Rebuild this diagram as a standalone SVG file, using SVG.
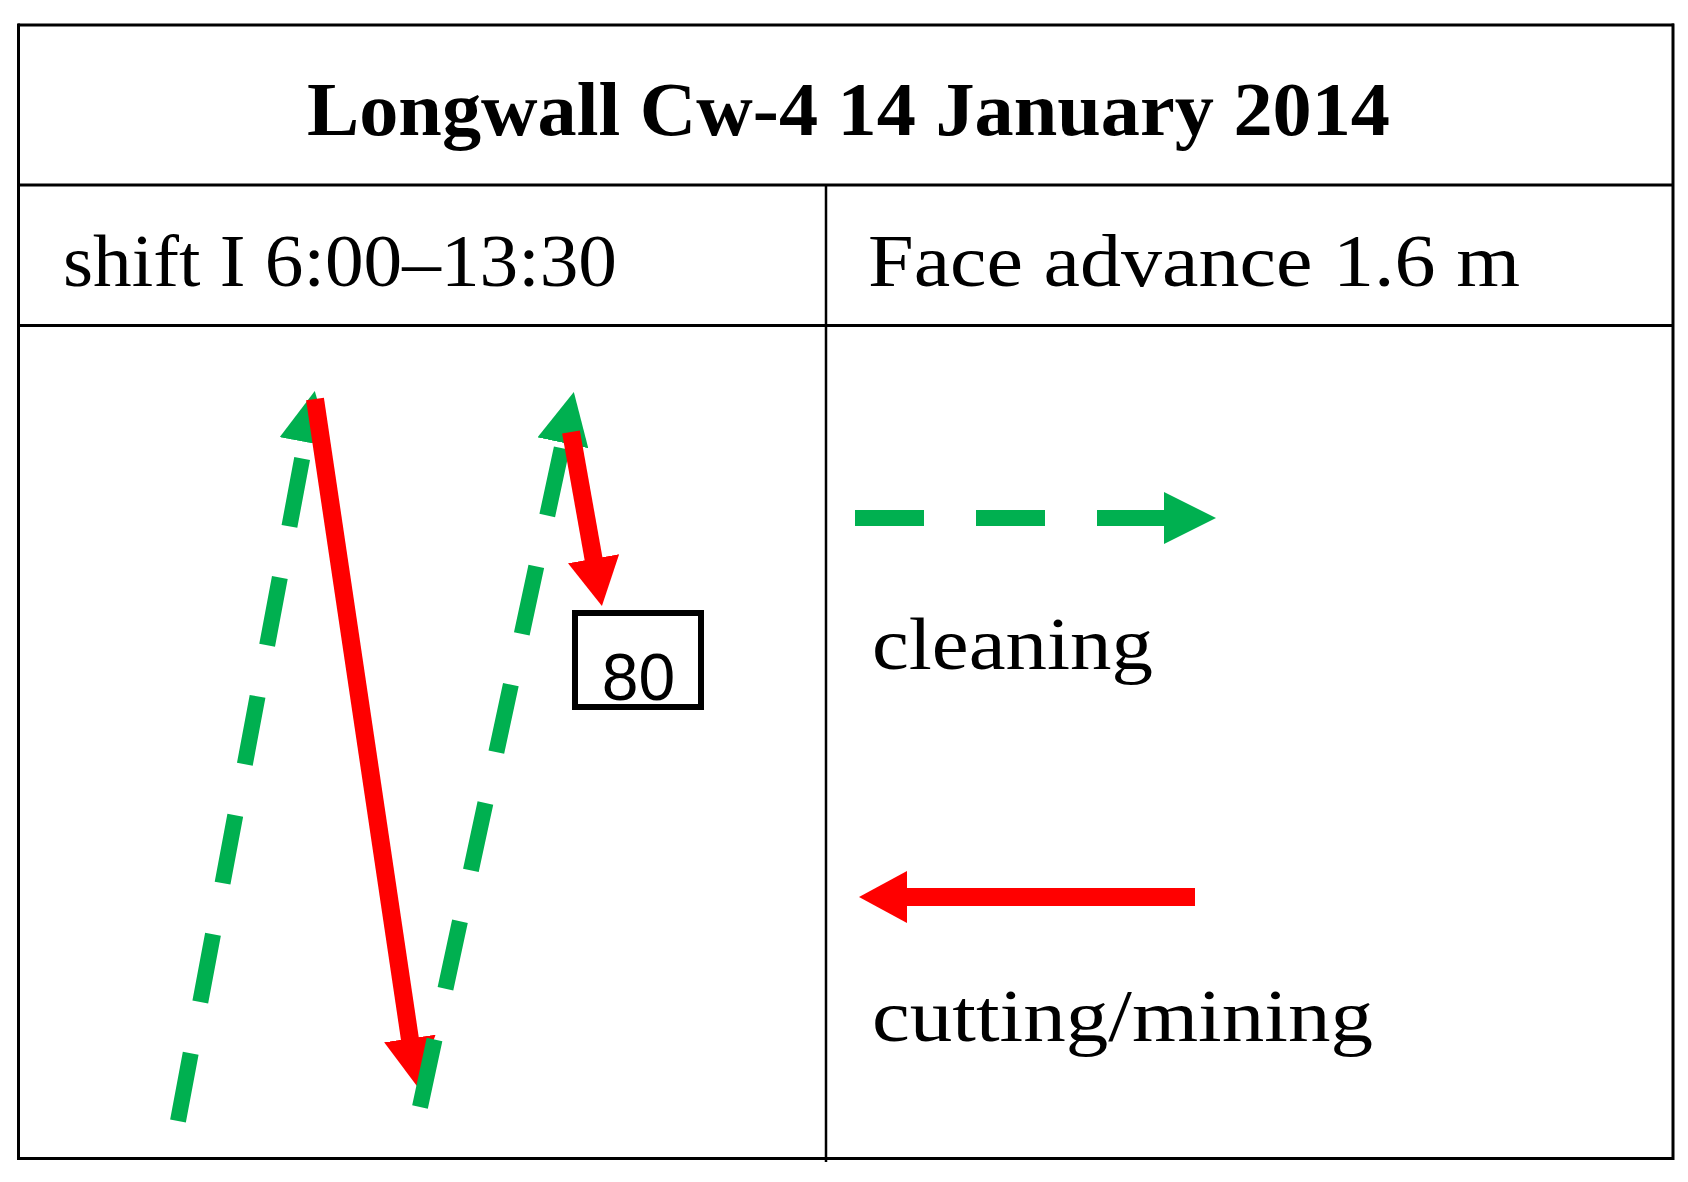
<svg xmlns="http://www.w3.org/2000/svg" width="1688" height="1182" viewBox="0 0 1688 1182">
  <style>
    .grid { stroke: #000; fill: none; }
    .txt { font-family: "Liberation Serif", "Times New Roman", serif; fill: #000; }
    .title { font-size: 77px; font-weight: bold; }
    .body { font-size: 75px; }
    .clean { fill: none; stroke: #00B050; stroke-width: 16; stroke-dasharray: 69 52; marker-end: url(#ahG); }
    .cut { fill: none; stroke: #FF0000; stroke-width: 18; marker-end: url(#ahR); }
  </style>
  <defs>
    <marker id="ahG" markerUnits="userSpaceOnUse" viewBox="0 0 52 52" markerWidth="52" markerHeight="52" refX="1" refY="26" orient="auto">
      <path d="M0,0 L52,26 L0,52 z" fill="#00B050"/>
    </marker>
    <marker id="ahR" markerUnits="userSpaceOnUse" viewBox="0 0 48 52" markerWidth="48" markerHeight="52" refX="1" refY="26" orient="auto">
      <path d="M0,0 L48,26 L0,52 z" fill="#FF0000"/>
    </marker>
  </defs>
  <rect width="1688" height="1182" fill="#fff"/>

  <g id="table">
    <line class="grid" stroke-width="3" x1="18" y1="25" x2="1674" y2="25"/>
    <line class="grid" stroke-width="3" x1="18" y1="185" x2="1674" y2="185"/>
    <line class="grid" stroke-width="3" x1="18" y1="325.5" x2="1674" y2="325.5"/>
    <line class="grid" stroke-width="3" x1="18" y1="1158.5" x2="1674" y2="1158.5"/>
    <line class="grid" stroke-width="3" x1="18.5" y1="23.5" x2="18.5" y2="1160"/>
    <line class="grid" stroke-width="3" x1="1673" y1="23.5" x2="1673" y2="1160"/>
    <line class="grid" stroke-width="2.5" x1="826" y1="185" x2="826" y2="1162"/>
  </g>

  <g id="title">
    <text class="txt title" x="307" y="135" textLength="1083" lengthAdjust="spacingAndGlyphs">Longwall Cw-4 14 January 2014</text>
  </g>
  <g id="shift">
    <text class="txt body" x="63" y="286" textLength="554" lengthAdjust="spacingAndGlyphs">shift I 6:00–13:30</text>
  </g>
  <g id="face-advance">
    <text class="txt body" x="868" y="286" textLength="652" lengthAdjust="spacingAndGlyphs">Face advance 1.6 m</text>
  </g>

  <g id="connectors">
    <path class="clean" d="M178,1121 L305.4,441.1"/>
    <path class="cut" d="M315,399 L410,1039.5"/>
    <path class="clean" d="M420,1107 L563.1,441.8"/>
    <path class="cut" stroke-width="17" d="M571,432 L593.7,559.7"/>
  </g>

  <g id="node-80">
    <rect x="575" y="613" width="126" height="94" fill="#fff" stroke="#000" stroke-width="6"/>
    <text x="638.5" y="700" text-anchor="middle" font-family="Liberation Sans, Arial, sans-serif" font-size="66" fill="#000">80</text>
  </g>

  <g id="legend-cleaning">
    <path class="clean" d="M855,518 L1165,518"/>
    <text class="txt body" x="872" y="669" textLength="281" lengthAdjust="spacingAndGlyphs">cleaning</text>
  </g>
  <g id="legend-cutting">
    <path class="cut" d="M1195,897 L906,897"/>
    <text class="txt body" x="872" y="1041" textLength="501" lengthAdjust="spacingAndGlyphs">cutting/mining</text>
  </g>
</svg>
